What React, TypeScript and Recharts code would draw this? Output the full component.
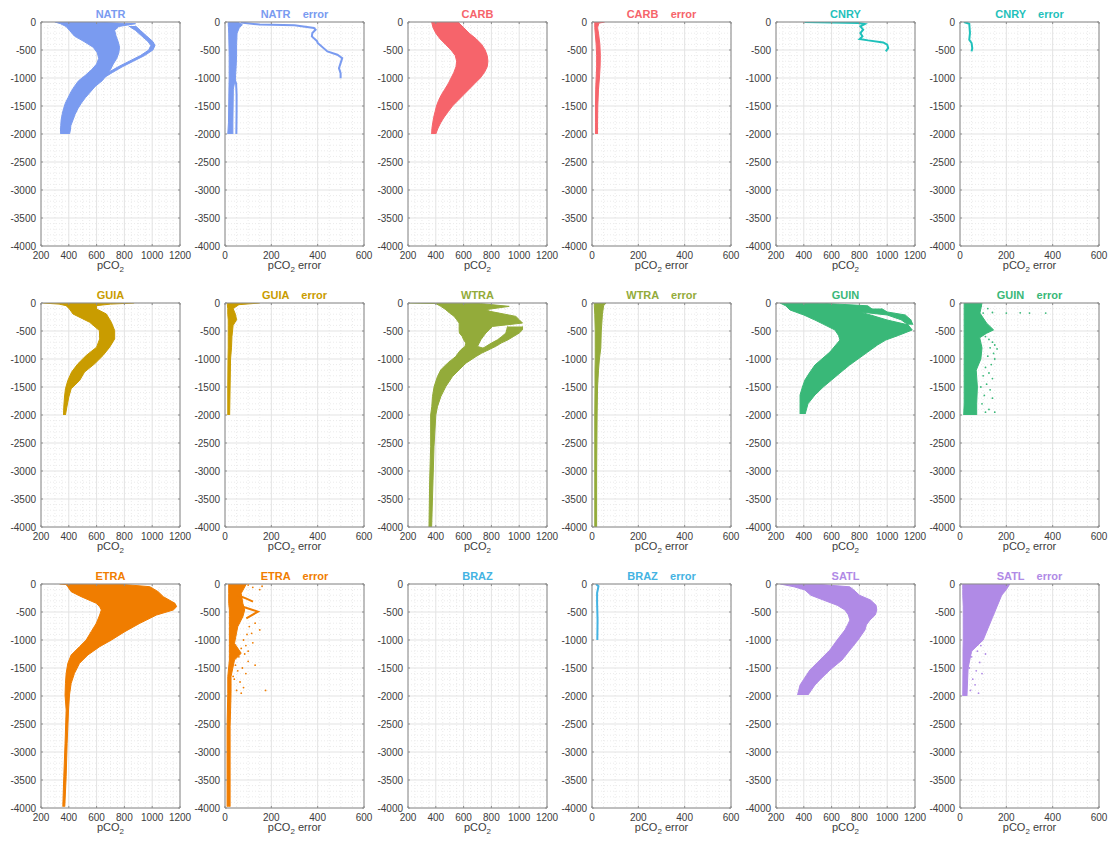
import React from "react";
import { ComposedChart, Area, Line, Scatter, XAxis, YAxis, ReferenceLine, CartesianGrid } from "recharts";

// axis ticks
const pcoTicks = [200, 400, 600, 800, 1000, 1200];
const errTicks = [0, 200, 400, 600];
const depthTicks = [0, -500, -1000, -1500, -2000, -2500, -3000, -3500, -4000];

// NATR
const natrD = [0, -30, -80, -150, -250, -350, -450, -550, -650, -750, -850, -950, -1050, -1150, -1250, -1350, -1450, -1550, -1650, -1750, -1850, -1950, -2000];
const natrLo = [300, 340, 380, 405, 440, 510, 575, 605, 615, 600, 565, 520, 470, 440, 415, 395, 375, 362, 352, 345, 342, 340, 342];
const natrHi = [560, 880, 760, 730, 740, 755, 765, 760, 745, 720, 700, 672, 640, 590, 555, 520, 490, 465, 445, 430, 415, 410, 405];
const natrLoopD = [-70, -150, -250, -350, -420, -500, -600, -700, -800, -900, -1000];
const natrLoopLo = [830, 880, 925, 970, 990, 975, 915, 835, 755, 685, 625];
const natrLoopHi = [880, 915, 960, 1005, 1020, 1005, 945, 865, 785, 715, 650];

const natrErrD = [0, -50, -100, -200, -400, -600, -800, -1000, -1200, -1500, -1800, -2000];
const natrErrLo = [14, 14, 15, 16, 17, 18, 18, 18, 17, 16, 15, 12];
const natrErrHi = [55, 75, 62, 52, 50, 50, 48, 45, 36, 35, 34, 34];
const natrErrSideX = [40, 48, 50, 50, 49];
const natrErrSideD = [-1000, -1100, -1300, -1600, -2000];
const natrErrOutX = [68, 150, 300, 384, 391, 377, 375, 398, 400, 442, 485, 506, 499, 492, 499, 499];
const natrErrOutD = [-10, -45, -60, -107, -137, -197, -257, -346, -376, -525, -585, -645, -734, -824, -913, -1003];

// CARB
const carbD = [0, -100, -200, -300, -400, -500, -600, -700, -800, -900, -1000, -1100, -1200, -1300, -1400, -1500, -1600, -1700, -1800, -1900, -2000];
const carbLo = [370, 380, 400, 430, 470, 510, 540, 550, 545, 530, 510, 490, 465, 440, 420, 405, 395, 385, 378, 372, 370];
const carbHi = [560, 600, 640, 690, 730, 755, 770, 775, 770, 750, 720, 680, 640, 600, 560, 520, 490, 460, 435, 415, 400];
const carbErrD = [0, -20, -100, -200, -400, -600, -800, -1000, -1200, -1500, -1800, -2000];
const carbErrLo = [10, 12, 12, 14, 18, 20, 20, 18, 16, 15, 15, 15];
const carbErrHi = [55, 30, 24, 28, 34, 36, 35, 32, 28, 25, 24, 24];

// CNRY
const cnryX = [405, 600, 790, 839, 807, 827, 807, 822, 802, 863, 971, 1000, 1007, 990];
const cnryD = [0, -8, -18, -36, -78, -137, -197, -257, -304, -328, -364, -406, -466, -525];
const cnryErrX = [17, 40, 43, 40, 50, 53, 50];
const cnryErrD = [0, -30, -197, -316, -376, -466, -525];

// GUIA
const guiaD = [0, -20, -47, -107, -196, -344, -492, -641, -789, -938, -1086, -1234, -1383, -1531, -1679, -1858, -2000];
const guiaLo = [215, 330, 380, 405, 430, 550, 620, 622, 600, 525, 465, 420, 393, 376, 369, 364, 362];
const guiaHi = [870, 700, 600, 600, 670, 706, 730, 730, 694, 646, 586, 513, 478, 417, 400, 386, 376];
const guiaErrD = [0, -30, -100, -200, -300, -400, -600, -800, -1000, -1500, -2000];
const guiaErrLo = [10, 10, 12, 12, 14, 14, 14, 14, 13, 12, 12];
const guiaErrHi = [150, 60, 35, 45, 50, 35, 30, 28, 24, 22, 20];

// WTRA
const wtraD = [0, -10, -60, -119, -149, -239, -298, -358, -418, -478, -537, -597, -657, -716, -776, -836, -896, -955, -1075, -1194, -1313, -1493, -1672, -1851, -2000, -2567, -3164, -4000];
const wtraLo = [207, 400, 436, 472, 484, 532, 550, 568, 568, 568, 570, 590, 600, 616, 610, 580, 560, 544, 484, 436, 412, 388, 376, 371, 363, 363, 356, 351];
const wtraHi = [411, 720, 928, 760, 790, 976, 1000, 1024, 808, 784, 760, 742, 724, 712, 700, 780, 730, 690, 616, 568, 520, 472, 436, 412, 400, 387, 380, 370];
const wtraLoopD = [-418, -478, -537, -597, -657, -716, -776, -836];
const wtraLoopLo = [916, 910, 904, 875, 844, 800, 760, 720];
const wtraLoopHi = [1024, 1024, 1000, 960, 920, 870, 830, 780];
const wtraErrD = [0, -50, -200, -500, -800, -1000, -1200, -1500, -2000, -3000, -4000];
const wtraErrLo = [10, 10, 12, 14, 14, 14, 13, 13, 12, 12, 12];
const wtraErrHi = [60, 50, 45, 40, 38, 32, 28, 24, 22, 20, 20];

// GUIN
const guinD = [0, -50, -125, -160, -214, -304, -390, -482, -580, -661, -750, -875, -1000, -1107, -1250, -1375, -1500, -1643, -1800, -1982];
const guinLo = [229, 270, 301, 340, 400, 480, 550, 624, 650, 660, 630, 588, 530, 480, 440, 408, 390, 373, 373, 373];
const guinHi = [500, 860, 900, 804, 880, 1000, 1150, 1180, 1080, 990, 930, 860, 790, 730, 660, 600, 540, 480, 430, 410];
const guinSpikeD = [-100, -160, -214, -300, -390];
const guinSpikeLo = [850, 804, 1000, 1100, 1150];
const guinSpikeHi = [960, 1000, 1130, 1170, 1185];
const guinErrD = [0, -180, -360, -480, -540, -620, -800, -1000, -1200, -1500, -1800, -2000];
const guinErrLo = [18, 18, 18, 18, 18, 18, 18, 18, 18, 18, 18, 16];
const guinErrHi = [95, 86, 115, 145, 115, 85, 95, 90, 70, 75, 72, 72];
const guinErrDotX = [100, 140, 200, 260, 300, 370, 120, 90, 110, 125, 140, 150, 130, 160, 145, 120, 150, 135, 110, 125, 100, 140, 115, 90, 130, 105, 140, 95, 125, 110, 150];
const guinErrDotD = [-180, -170, -180, -175, -180, -180, -100, -60, -600, -650, -700, -750, -800, -820, -900, -950, -1000, -1100, -1150, -1250, -1300, -1350, -1450, -1500, -1550, -1650, -1700, -1800, -1900, -1950, -1950];

// ETRA
const etraD = [0, -10, -48, -137, -226, -345, -405, -464, -554, -702, -851, -1000, -1119, -1268, -1417, -1595, -1774, -1982, -2250, -2845, -3440, -3976];
const etraLo = [333, 380, 393, 417, 489, 598, 622, 634, 622, 598, 561, 525, 477, 417, 393, 381, 376, 373, 381, 373, 364, 357];
const etraHi = [453, 800, 983, 1043, 1080, 1164, 1176, 1152, 1031, 911, 803, 707, 622, 537, 477, 441, 417, 405, 398, 388, 381, 371];
const etraErrD = [0, -167, -345, -464, -583, -762, -1060, -1238, -1357, -1655, -1952, -2548, -3976];
const etraErrLo = [16, 16, 16, 19, 19, 19, 19, 19, 19, 12, 12, 9, 9];
const etraErrHi = [92, 70, 77, 85, 77, 55, 41, 70, 41, 26, 26, 22, 22];
const etraErrArm1X = [55, 90, 121];
const etraErrArm1D = [-200, -256, -315];
const etraErrArm2X = [77, 110, 142, 92];
const etraErrArm2D = [-405, -450, -494, -613];
const etraErrDotX = [150, 120, 160, 100, 130, 105, 150, 115, 95, 80, 120, 90, 70, 100, 85, 60, 100, 45, 75, 55, 90, 40, 65, 80, 50, 70, 175, 35, 130, 60];
const etraErrDotD = [-100, -60, -40, -20, -700, -760, -820, -880, -900, -1000, -1050, -1100, -1150, -1200, -1250, -1300, -1380, -1450, -1500, -1550, -1600, -1700, -1750, -1850, -1900, -1950, -1900, -1650, -1450, -1250];

// BRAZ
const brazErrX = [17, 28, 26, 22, 22, 24, 23];
const brazErrD = [0, -40, -80, -160, -340, -640, -1000];

// SATL
const satlD = [0, -50, -107, -200, -286, -380, -464, -550, -643, -730, -821, -1000, -1179, -1357, -1536, -1700, -1804, -1982];
const satlLo = [230, 330, 408, 450, 540, 640, 696, 720, 732, 715, 696, 640, 588, 516, 444, 400, 373, 355];
const satlHi = [480, 730, 760, 800, 880, 920, 925, 915, 876, 850, 840, 790, 732, 675, 588, 520, 480, 430];
const satlErrD = [0, -100, -200, -400, -500, -600, -800, -1000, -1200, -1500, -2000];
const satlErrLo = [12, 12, 12, 14, 14, 14, 14, 14, 13, 13, 12];
const satlErrHi = [215, 200, 180, 160, 150, 140, 120, 100, 50, 35, 30];
const satlErrDotX = [60, 90, 75, 110, 50, 85, 40, 70, 95, 55, 30, 65, 45, 80];
const satlErrDotD = [-1050, -1100, -1200, -1250, -1300, -1400, -1500, -1550, -1600, -1700, -1750, -1800, -1900, -1950];

type BandRow = { d: number; r: [number, number] };
type Pt = { x: number; d: number };

const band = (d: number[], lo: number[], hi: number[]): BandRow[] =>
  d.map((v, i) => ({ d: v, r: [lo[i], hi[i]] }));
const pts = (x: number[], d: number[]): Pt[] => x.map((v, i) => ({ x: v, d: d[i] }));

interface PanelDef {
  title: string;
  color: string;
  err: boolean;
  bands: BandRow[][];
  lines: Pt[][];
  dots: Pt[];
}

const C = {
  natr: "#7a9bf0",
  carb: "#f6646b",
  cnry: "#1fc1bb",
  guia: "#c99c00",
  wtra: "#93ab3a",
  guin: "#39b878",
  etra: "#f07d00",
  braz: "#44b3e2",
  satl: "#b08ae6",
};

const ERR = "    error";

const panels: PanelDef[] = [
  { title: "NATR", color: C.natr, err: false, bands: [band(natrD, natrLo, natrHi), band(natrLoopD, natrLoopLo, natrLoopHi)], lines: [], dots: [] },
  { title: "NATR" + ERR, color: C.natr, err: true, bands: [band(natrErrD, natrErrLo, natrErrHi)], lines: [pts(natrErrSideX, natrErrSideD), pts(natrErrOutX, natrErrOutD)], dots: [] },
  { title: "CARB", color: C.carb, err: false, bands: [band(carbD, carbLo, carbHi)], lines: [], dots: [] },
  { title: "CARB" + ERR, color: C.carb, err: true, bands: [band(carbErrD, carbErrLo, carbErrHi)], lines: [], dots: [] },
  { title: "CNRY", color: C.cnry, err: false, bands: [], lines: [pts(cnryX, cnryD)], dots: [] },
  { title: "CNRY" + ERR, color: C.cnry, err: true, bands: [], lines: [pts(cnryErrX, cnryErrD)], dots: [] },
  { title: "GUIA", color: C.guia, err: false, bands: [band(guiaD, guiaLo, guiaHi)], lines: [], dots: [] },
  { title: "GUIA" + ERR, color: C.guia, err: true, bands: [band(guiaErrD, guiaErrLo, guiaErrHi)], lines: [], dots: [] },
  { title: "WTRA", color: C.wtra, err: false, bands: [band(wtraD, wtraLo, wtraHi), band(wtraLoopD, wtraLoopLo, wtraLoopHi)], lines: [], dots: [] },
  { title: "WTRA" + ERR, color: C.wtra, err: true, bands: [band(wtraErrD, wtraErrLo, wtraErrHi)], lines: [], dots: [] },
  { title: "GUIN", color: C.guin, err: false, bands: [band(guinD, guinLo, guinHi), band(guinSpikeD, guinSpikeLo, guinSpikeHi)], lines: [], dots: [] },
  { title: "GUIN" + ERR, color: C.guin, err: true, bands: [band(guinErrD, guinErrLo, guinErrHi)], lines: [], dots: pts(guinErrDotX, guinErrDotD) },
  { title: "ETRA", color: C.etra, err: false, bands: [band(etraD, etraLo, etraHi)], lines: [], dots: [] },
  { title: "ETRA" + ERR, color: C.etra, err: true, bands: [band(etraErrD, etraErrLo, etraErrHi)], lines: [pts(etraErrArm1X, etraErrArm1D), pts(etraErrArm2X, etraErrArm2D)], dots: pts(etraErrDotX, etraErrDotD) },
  { title: "BRAZ", color: C.braz, err: false, bands: [], lines: [], dots: [] },
  { title: "BRAZ" + ERR, color: C.braz, err: true, bands: [], lines: [pts(brazErrX, brazErrD)], dots: [] },
  { title: "SATL", color: C.satl, err: false, bands: [band(satlD, satlLo, satlHi)], lines: [], dots: [] },
  { title: "SATL" + ERR, color: C.satl, err: true, bands: [band(satlErrD, satlErrLo, satlErrHi)], lines: [], dots: pts(satlErrDotX, satlErrDotD) },
];

const colLeft = [41, 225, 408, 592, 776, 960];
const rowTop = [22, 303, 584];
const PW = 139;
const FONT = "'Liberation Sans', Arial, Helvetica, sans-serif";
const AX = "#8c8c8c";

function minorOf(lo: number, hi: number, step: number, major: number): number[] {
  const out: number[] = [];
  for (let v = lo + step; v < hi; v += step) if (v % major !== 0) out.push(v);
  return out;
}

function Panel({ p, left, top }: { p: PanelDef; left: number; top: number }) {
  const x0 = p.err ? 0 : 200;
  const x1 = p.err ? 600 : 1200;
  const xTicks = p.err ? errTicks : pcoTicks;
  const xMinor = minorOf(x0, x1, 50, 200);
  const yMinor = minorOf(-4000, 0, 100, 500);
  const tx = (x1 - x0) * 0.014;
  const ty = 4000 * 0.009;
  return (
    <div style={{ position: "absolute", left: left - 41, top: top - 22, width: 200, height: 290 }}>
      <ComposedChart layout="vertical" width={200} height={281} margin={{ top: 22, right: 20, bottom: 0, left: 0 }}>
        <CartesianGrid stroke="#ebebeb" strokeDasharray="1 2" verticalValues={xMinor} horizontalValues={yMinor} />
        <CartesianGrid stroke="#e3e3e3" />
        <XAxis
          type="number"
          dataKey="x"
          domain={[x0, x1]}
          ticks={xTicks}
          interval={0}
          allowDataOverflow
          height={35}
          tickSize={4}
          tickMargin={2}
          tickLine={false}
          axisLine={{ stroke: AX }}
          tick={{ fill: "#3c3c3c", fontSize: 10, fontFamily: FONT }}
        />
        <YAxis
          type="number"
          dataKey="d"
          domain={[-4000, 0]}
          reversed
          ticks={depthTicks}
          interval={0}
          allowDataOverflow
          width={41}
          tickSize={4}
          tickMargin={1}
          tickLine={false}
          axisLine={{ stroke: AX }}
          tick={{ fill: "#3c3c3c", fontSize: 10, fontFamily: FONT }}
        />
        {p.bands.map((b, i) => (
          <Area
            key={"b" + i}
            data={b}
            dataKey="r"
            type="linear"
            stroke={p.color}
            strokeWidth={1}
            fill={p.color}
            fillOpacity={1}
            isAnimationActive={false}
            dot={false}
            activeDot={false}
          />
        ))}
        {p.lines.map((l, i) => (
          <Line
            key={"l" + i}
            data={l}
            dataKey="x"
            type="linear"
            stroke={p.color}
            strokeWidth={2}
            dot={false}
            activeDot={false}
            isAnimationActive={false}
          />
        ))}
        {p.dots.length > 0 && (
          <Scatter
            data={p.dots}
            dataKey="x"
            fill={p.color}
            isAnimationActive={false}
            shape={(s: any) => <circle cx={s.cx} cy={s.cy} r={0.9} fill={p.color} />}
          />
        )}
        {/* inward tick marks, mirrored on all four sides */}
        {xTicks.map((v) => (
          <ReferenceLine key={"tb" + v} segment={[{ x: v, y: -4000 }, { x: v, y: -4000 + ty }]} stroke={AX} />
        ))}
        {xTicks.map((v) => (
          <ReferenceLine key={"tt" + v} segment={[{ x: v, y: 0 }, { x: v, y: -ty }]} stroke={AX} />
        ))}
        {depthTicks.map((v) => (
          <ReferenceLine key={"tl" + v} segment={[{ x: x0, y: v }, { x: x0 + tx, y: v }]} stroke={AX} />
        ))}
        {depthTicks.map((v) => (
          <ReferenceLine key={"tr" + v} segment={[{ x: x1, y: v }, { x: x1 - tx, y: v }]} stroke={AX} />
        ))}
        <ReferenceLine x={x1} stroke={AX} />
        <ReferenceLine y={0} stroke={AX} />
      </ComposedChart>
      <div
        style={{
          position: "absolute",
          left: 41,
          width: PW,
          top: 7,
          textAlign: "center",
          fontWeight: "bold",
          fontSize: 11,
          color: p.color,
          whiteSpace: "pre",
          fontFamily: FONT,
          lineHeight: "14px",
        }}
      >
        {p.title}
      </div>
      <div
        style={{
          position: "absolute",
          left: 41,
          width: PW,
          top: 258,
          textAlign: "center",
          fontSize: 11,
          color: "#3c3c3c",
          fontFamily: FONT,
          lineHeight: "14px",
        }}
      >
        pCO<sub style={{ fontSize: 8, lineHeight: 0 }}>2</sub>
        {p.err ? " error" : ""}
      </div>
    </div>
  );
}

export default function App() {
  return (
    <div style={{ position: "absolute", left: 0, top: 0, width: 1113, height: 847, background: "#fff" }}>
      {panels.map((p, i) => (
        <Panel key={p.title} p={p} left={colLeft[i % 6]} top={rowTop[Math.floor(i / 6)]} />
      ))}
    </div>
  );
}
